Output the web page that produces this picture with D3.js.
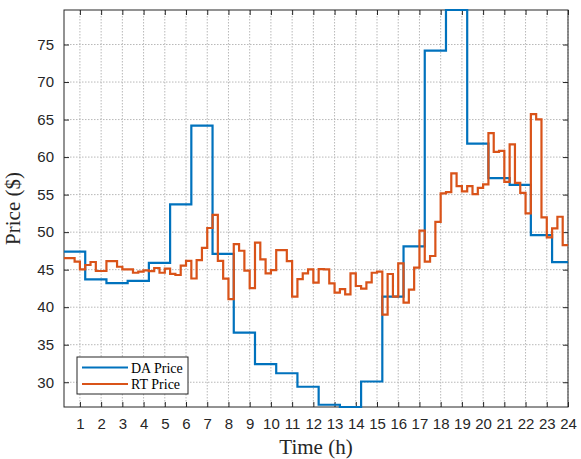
<!DOCTYPE html>
<html>
<head>
<meta charset="utf-8">
<script src="https://cdn.jsdelivr.net/npm/d3@7"></script>
<style>
  body { margin: 0; background: #fff; }
</style>
</head>
<body>
<div id="chart"></div>
<script>
// hourly day-ahead price, one value per hour (1..24)
const daPrice = [47.4, 43.7, 43.2, 43.5, 45.9, 53.7, 64.2, 47.1, 36.6, 32.4, 31.2, 29.4,
                 27.0, 26.7, 30.1, 41.4, 48.1, 74.2, 79.6, 61.8, 57.2, 56.3, 49.6, 46.0];

// real time price, one value every 15 min (96 values)
const rtPrice = [
  46.55, 46.55, 46.06, 45.04, 45.62, 46.02, 44.82, 44.82, 46.15, 46.15, 45.39, 45.04,
  45.04, 44.59, 44.73, 44.91, 44.8, 45.22, 44.59, 45.15, 44.45, 44.29, 45.55, 46.17,
  43.82, 46.28, 47.9, 50.55, 52.31, 46.17, 43.8, 41.07, 48.41, 47.52, 44.86, 42.55,
  48.59, 46.38, 44.51, 44.95, 47.61, 47.61, 46.15, 41.4, 43.75, 44.51, 45.04, 43.26,
  45.06, 45.04, 43.18, 41.95, 42.42, 41.72, 44.51, 42.82, 42.47, 43.31, 44.59, 44.73,
  39.0, 44.42, 41.4, 45.84, 40.6, 42.35, 45.28, 50.2, 46.06, 46.82, 51.38, 55.16,
  55.34, 57.83, 56.14, 55.43, 56.14, 55.07, 55.91, 56.36, 63.2, 60.7, 60.84, 56.71,
  61.69, 56.57, 55.24, 52.5, 65.72, 65.02, 51.97, 49.31, 50.5, 52.05, 48.28, 48.28
];

const xTicks = d3.range(1, 25);
const yTicks = [30, 35, 40, 45, 50, 55, 60, 65, 70, 75];
const seriesNames = ["DA Price", "RT Price"];
const seriesColors = ["#0072BD", "#D95319"];

const W = 581, H = 459;
const margin = { top: 10, right: 13, bottom: 52, left: 64 },
    width = W - margin.left - margin.right,
    height = H - margin.top - margin.bottom;

// time grid 0.25 .. 24 (quarter hours)
const times = rtPrice.map((d, i) => (i + 1) * 0.25);
const rtData = times.map((t, i) => ({ time: t, value: rtPrice[i] }));
// DA held for the four quarters of its hour
const daData = times.map((t, i) => ({ time: t, value: daPrice[Math.floor(i / 4)] }));

const svg = d3.select("#chart")
    .append("svg")
    .attr("width", W)
    .attr("height", H)
    .append("g")
    .attr("transform", `translate(${margin.left}, ${margin.top})`);

const xScale = d3.scaleLinear()
    .domain([0.25, 24])
    .range([0, width]);

// axis tight to the data
const yScale = d3.scaleLinear()
    .domain(d3.extent(daPrice.concat(rtPrice)))
    .range([height, 0]);

// dotted grid
svg.append("g")
    .selectAll("line")
    .data(xTicks)
    .join("line")
    .attr("x1", d => xScale(d)).attr("x2", d => xScale(d))
    .attr("y1", 0).attr("y2", height)
    .attr("stroke", "#b8b8b8")
    .attr("stroke-width", 1)
    .attr("stroke-dasharray", "1.5,1.5");
svg.append("g")
    .selectAll("line")
    .data(yTicks)
    .join("line")
    .attr("x1", 0).attr("x2", width)
    .attr("y1", d => yScale(d)).attr("y2", d => yScale(d))
    .attr("stroke", "#b8b8b8")
    .attr("stroke-width", 1)
    .attr("stroke-dasharray", "1.5,1.5");

// axes, ticks pointing inwards like matlab
const tickFont = "'Liberation Sans', Arial, sans-serif";
const axColor = "#262626";

const xAxis = svg.append("g")
    .attr("transform", `translate(0, ${height})`)
    .call(d3.axisBottom(xScale).tickValues(xTicks).tickSize(-5).tickPadding(11).tickFormat(d3.format("d")));
const xAxisTop = svg.append("g")
    .call(d3.axisTop(xScale).tickValues(xTicks).tickSize(-5).tickFormat(""));
const yAxis = svg.append("g")
    .call(d3.axisLeft(yScale).tickValues(yTicks).tickSize(-5).tickPadding(10));
const yAxisRight = svg.append("g")
    .attr("transform", `translate(${width}, 0)`)
    .call(d3.axisRight(yScale).tickValues(yTicks).tickSize(-5).tickFormat(""));

[xAxis, xAxisTop, yAxis, yAxisRight].forEach(a => {
    a.select(".domain").remove();
    a.selectAll("line").attr("stroke", axColor);
    a.selectAll("text")
        .attr("fill", axColor)
        .style("font-family", tickFont)
        .style("font-size", "15px");
});

// box around the plot
svg.append("rect")
    .attr("x", 0).attr("y", 0)
    .attr("width", width).attr("height", height)
    .attr("fill", "none")
    .attr("stroke", axColor)
    .attr("stroke-width", 1);

// price lines
const line = d3.line()
    .x(d => xScale(d.time))
    .y(d => yScale(d.value))
    .curve(d3.curveStepAfter);

svg.selectAll("priceLines")
    .data([daData, rtData])
    .enter()
    .append("path")
    .attr("d", d => line(d))
    .attr("fill", "none")
    .attr("stroke", (d, i) => seriesColors[i])
    .attr("stroke-width", 2.2);

// axis labels
const labelFont = "'Liberation Serif', 'Times New Roman', serif";
svg.append("text")
    .attr("x", width / 2)
    .attr("y", height + 47)
    .attr("text-anchor", "middle")
    .style("font-family", labelFont)
    .style("font-size", "21px")
    .attr("fill", axColor)
    .text("Time (h)");

svg.append("text")
    .attr("transform", `translate(${-44}, ${height / 2}) rotate(-90)`)
    .attr("text-anchor", "middle")
    .style("font-family", labelFont)
    .style("font-size", "21px")
    .attr("fill", axColor)
    .text("Price ($)");

// legend
const legend = svg.append("g")
    .attr("transform", `translate(${13}, ${height - 50})`);
legend.append("rect")
    .attr("width", 111)
    .attr("height", 37)
    .attr("fill", "#fff")
    .attr("stroke", axColor)
    .attr("stroke-width", 1);
legend.selectAll("g")
    .data(seriesNames)
    .join("g")
    .attr("transform", (d, i) => `translate(0, ${10.5 + i * 16.5})`)
    .each(function (d, i) {
        const g = d3.select(this);
        g.append("line")
            .attr("x1", 5).attr("x2", 51)
            .attr("stroke", seriesColors[i])
            .attr("stroke-width", 2.2);
        g.append("text")
            .attr("x", 54)
            .attr("y", 5)
            .style("font-family", labelFont)
            .style("font-size", "14px")
            .attr("fill", "#000")
            .text(d);
    });
</script>
</body>
</html>
